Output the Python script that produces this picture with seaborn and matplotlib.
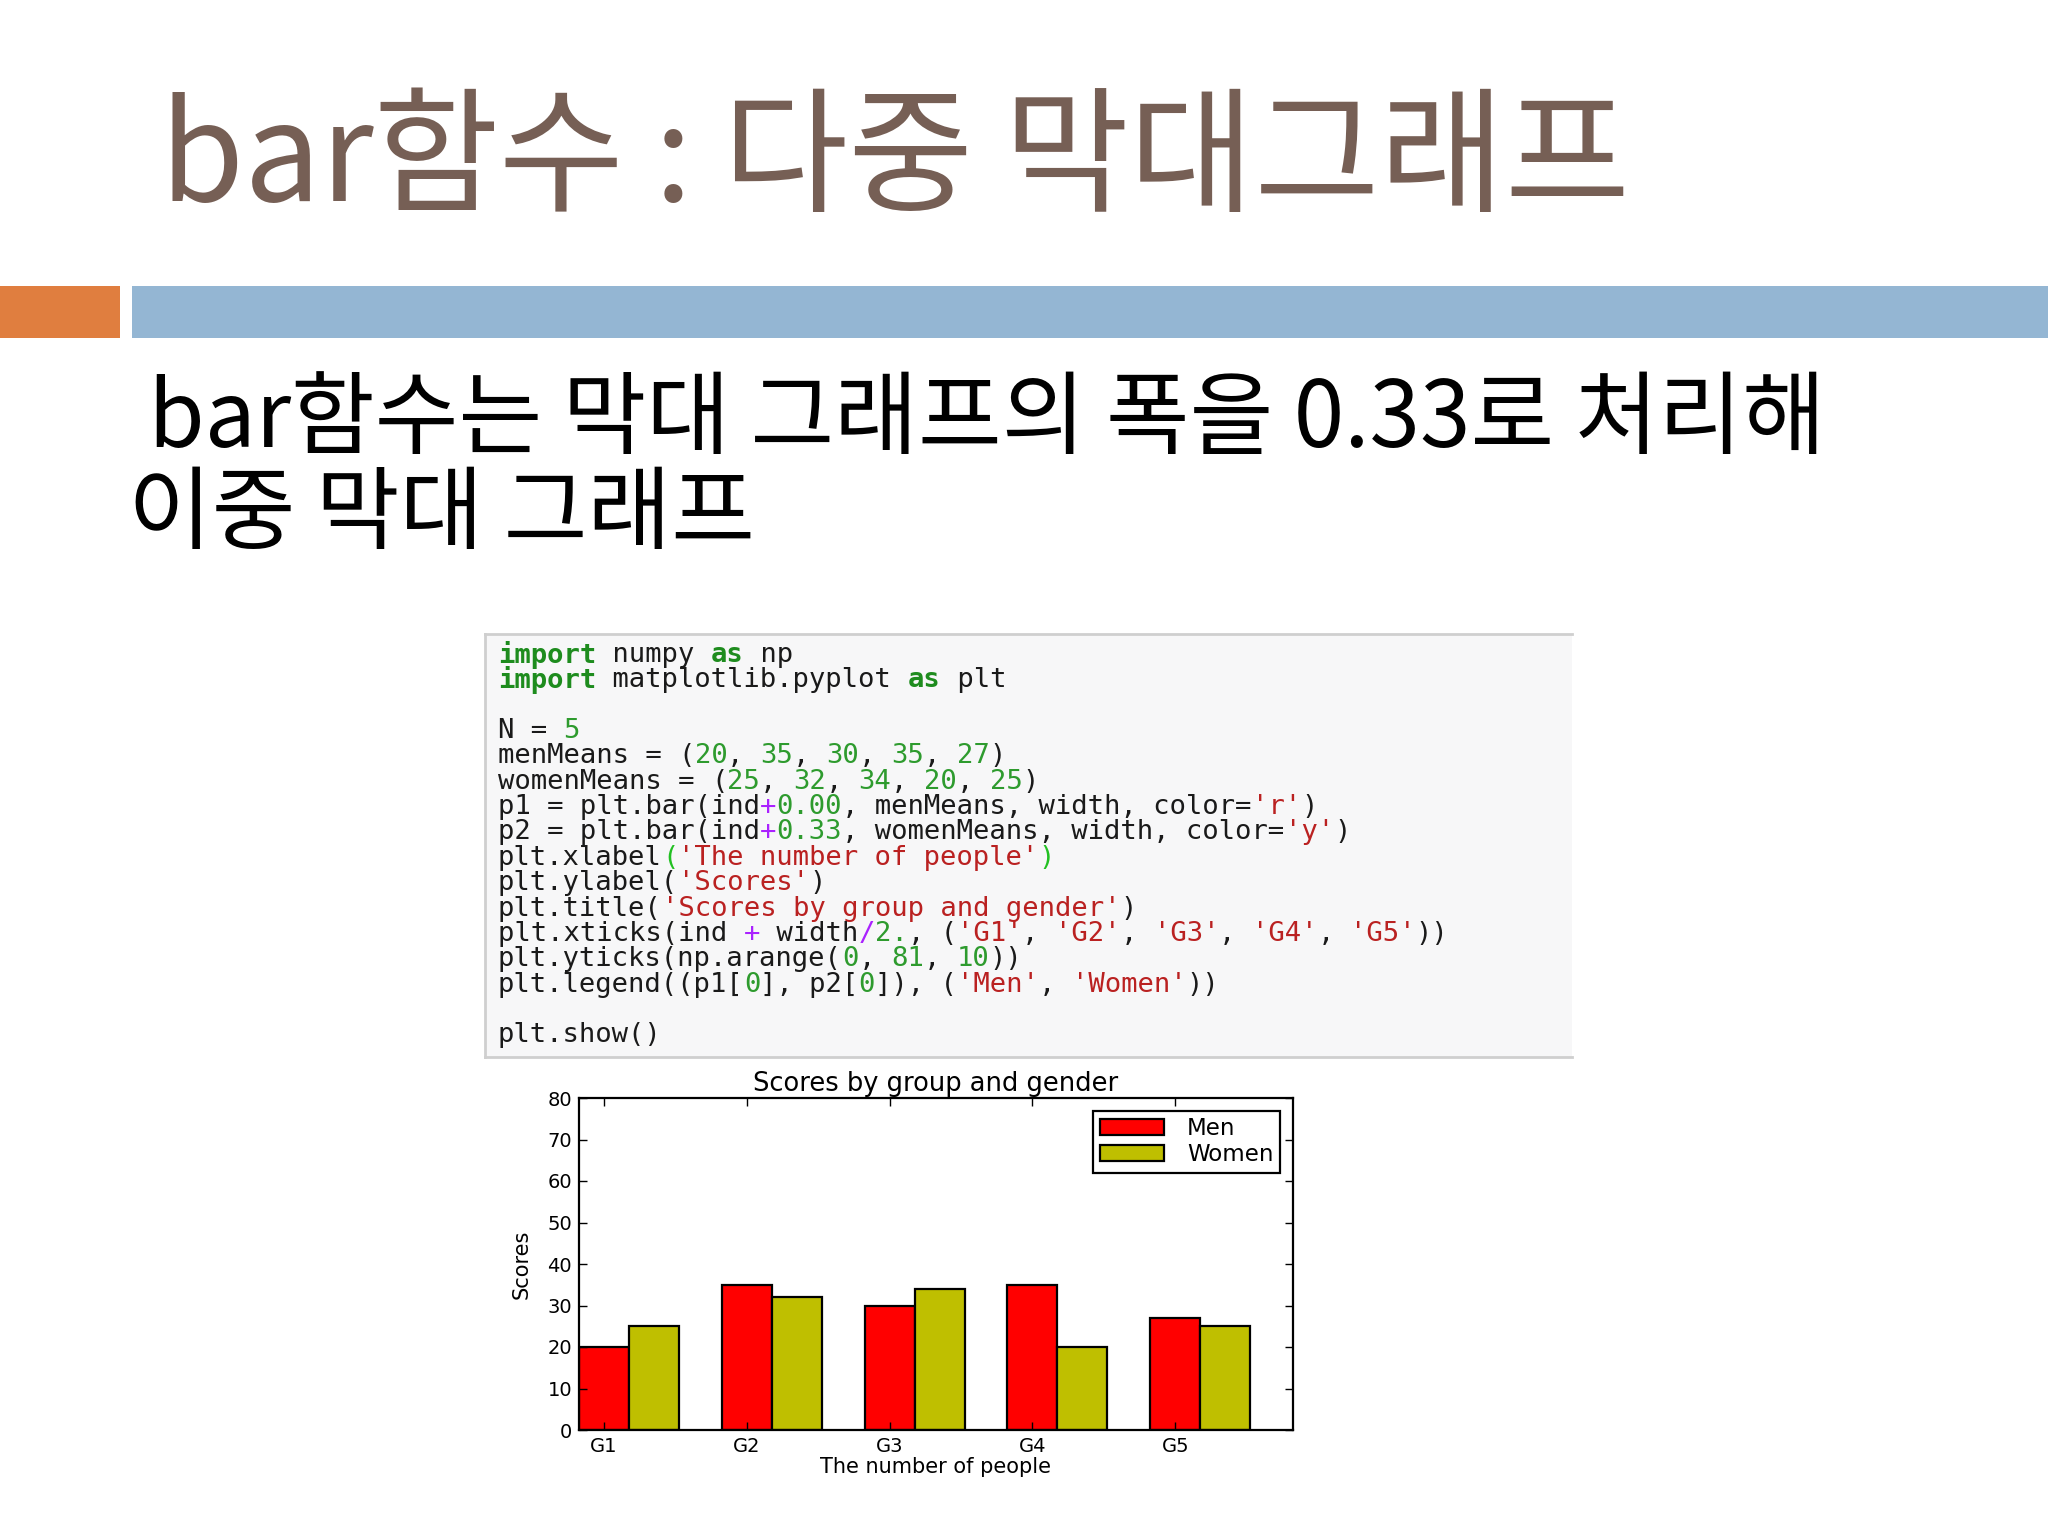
import numpy as np
import pandas as pd
import matplotlib
matplotlib.use("Agg")
import matplotlib.pyplot as plt
from matplotlib.patches import Rectangle
from matplotlib.lines import Line2D
import seaborn as sns

# ---------------- data ----------------
groups = ["G1", "G2", "G3", "G4", "G5"]
men_means = [20, 35, 30, 35, 27]
women_means = [25, 32, 34, 20, 25]
series_names = ["Men", "Women"]
y_ticks = list(range(0, 81, 10))

slide_title = "bar함수 : 다중 막대그래프"
body_line1 = " bar함수는 막대 그래프의 폭을 0.33로 처리해"
body_line2 = "이중 막대 그래프"
chart_title = "Scores by group and gender"
x_label = "The number of people"
y_label = "Scores"

# ---------------- figure ----------------
W, H = 2048, 1536
fig = plt.figure(figsize=(W / 100, H / 100), dpi=100)
fig.patch.set_facecolor("white")
plt.rcParams["font.family"] = ["DejaVu Sans"]

KR = ["Noto Sans CJK KR", "DejaVu Sans"]


def fx(px):
    return px / W


def fy(py):
    return 1 - py / H


# title
fig.text(fx(160), fy(162), slide_title, family=KR, fontsize=98,
         fontweight="light", color="#765F55", ha="left", va="center")

# header bars
fig.patches.append(Rectangle((fx(0), fy(338)), fx(120), (338 - 286) / H,
                             transform=fig.transFigure, facecolor="#E07E3F",
                             edgecolor="none"))
fig.patches.append(Rectangle((fx(132), fy(338)), fx(2048 - 132), (338 - 286) / H,
                             transform=fig.transFigure, facecolor="#94B6D3",
                             edgecolor="none"))

# body text
fig.text(fx(128), fy(421), body_line1, family=KR, fontsize=65.5,
         fontweight="light", color="black", ha="left", va="center")
fig.text(fx(128), fy(516), body_line2, family=KR, fontsize=65.5,
         fontweight="light", color="black", ha="left", va="center")

# ---------------- code box ----------------
box_l, box_r, box_t, box_b = 485, 1572, 634, 1057
fig.patches.append(Rectangle((fx(box_l), fy(box_b)), fx(box_r - box_l),
                             (box_b - box_t) / H, transform=fig.transFigure,
                             facecolor="#F7F7F8", edgecolor="none"))
for xs, ys in [([box_l, box_r], [box_t, box_t]),
               ([box_l, box_r], [box_b, box_b]),
               ([box_l, box_l], [box_t, box_b])]:
    fig.lines.append(Line2D([fx(v) for v in xs], [fy(v) for v in ys],
                            transform=fig.transFigure, color="#CFCFCF",
                            linewidth=2))

TXT = "#1a1a1a"
KW = "#1E8C1E"
NUM = "#2E9B2E"
STR = "#BA2121"
OP = "#AA22FF"
BR = "#22C022"


def nums(vals):
    segs = [("(", TXT, False)]
    for i, v in enumerate(vals):
        segs.append((str(v), NUM, False))
        if i < len(vals) - 1:
            segs.append((", ", TXT, False))
    segs.append((")", TXT, False))
    return segs


tick_segs = []
for i, g in enumerate(groups):
    tick_segs.append(("'%s'" % g, STR, False))
    if i < len(groups) - 1:
        tick_segs.append((", ", TXT, False))

code_lines = [
    [("import", KW, True), (" numpy ", TXT, False), ("as", KW, True), (" np", TXT, False)],
    [("import", KW, True), (" matplotlib.pyplot ", TXT, False), ("as", KW, True), (" plt", TXT, False)],
    [],
    [("N = ", TXT, False), ("5", NUM, False)],
    [("menMeans = ", TXT, False)] + nums(men_means),
    [("womenMeans = ", TXT, False)] + nums(women_means),
    [("p1 = plt.bar(ind", TXT, False), ("+", OP, False), ("0.00", NUM, False),
     (", menMeans, width, color=", TXT, False), ("'r'", STR, False), (")", TXT, False)],
    [("p2 = plt.bar(ind", TXT, False), ("+", OP, False), ("0.33", NUM, False),
     (", womenMeans, width, color=", TXT, False), ("'y'", STR, False), (")", TXT, False)],
    [("plt.xlabel", TXT, False), ("(", BR, False), ("'%s'" % x_label, STR, False), (")", BR, False)],
    [("plt.ylabel(", TXT, False), ("'%s'" % y_label, STR, False), (")", TXT, False)],
    [("plt.title(", TXT, False), ("'%s'" % chart_title, STR, False), (")", TXT, False)],
    [("plt.xticks(ind ", TXT, False), ("+", OP, False), (" width", TXT, False), ("/", OP, False),
     ("2.", NUM, False), (", (", TXT, False)] + tick_segs + [("))", TXT, False)],
    [("plt.yticks(np.arange(", TXT, False), ("0", NUM, False), (", ", TXT, False),
     ("81", NUM, False), (", ", TXT, False), ("10", NUM, False), ("))", TXT, False)],
    [("plt.legend((p1[", TXT, False), ("0", NUM, False), ("], p2[", TXT, False), ("0", NUM, False),
     ("]), (", TXT, False), ("'Men'", STR, False), (", ", TXT, False), ("'Women'", STR, False),
     ("))", TXT, False)],
    [],
    [("plt.show()", TXT, False)],
]

code_fs = 19.6
char_w = code_fs * 100 / 72 * 0.6021
code_x0 = 498
code_y0 = 655
line_h = 25.35
for li, segs in enumerate(code_lines):
    col = 0
    y = code_y0 + li * line_h
    for text, color, bold in segs:
        fig.text(fx(code_x0 + col * char_w), fy(y), text, family="DejaVu Sans Mono",
                 fontsize=code_fs, color=color, ha="left", va="center",
                 fontweight="bold" if bold else "normal")
        col += len(text)

# ---------------- chart ----------------
ax_l, ax_r, ax_t, ax_b = 579, 1293, 1098, 1430
ax = fig.add_axes([fx(ax_l), fy(ax_b), fx(ax_r - ax_l), (ax_b - ax_t) / H])

df = pd.DataFrame({
    "group": groups * 2,
    "score": men_means + women_means,
    "gender": [series_names[0]] * len(groups) + [series_names[1]] * len(groups),
})
palette = {series_names[0]: "#FF0000", series_names[1]: "#BFBF00"}
bar_w = 0.7
sns.barplot(data=df, x="group", y="score", hue="gender", palette=palette,
            width=bar_w, gap=0, edgecolor="black", linewidth=1.6,
            errorbar=None, saturation=1, ax=ax)

n = len(groups)
ax.set_xlim(-bar_w / 2, n - bar_w / 2)
ax.set_ylim(y_ticks[0], y_ticks[-1])
ax.set_yticks(y_ticks)
ax.set_xticks(np.arange(n) - bar_w / 4)
ax.set_xticklabels(groups)
ax.tick_params(direction="in", top=True, right=True, length=6, width=1,
               labelsize=14, pad=5, colors="black")
for s in ax.spines.values():
    s.set_color("black")
    s.set_linewidth(1.6)
ax.set_title(chart_title, fontsize=18.5, pad=5)
ax.set_xlabel(x_label, fontsize=15, labelpad=1)
ax.set_ylabel(y_label, fontsize=15, labelpad=11)

handles, labels = ax.get_legend_handles_labels()
leg = ax.legend(handles, labels, loc="upper right", fontsize=16.5, frameon=True,
                fancybox=False, edgecolor="black", framealpha=1,
                borderaxespad=0.55, labelspacing=0.12, borderpad=0.3,
                handlelength=2.8, handletextpad=1.0)
leg.get_frame().set_linewidth(1.6)

fig.savefig("out.png", dpi=100, facecolor="white")
